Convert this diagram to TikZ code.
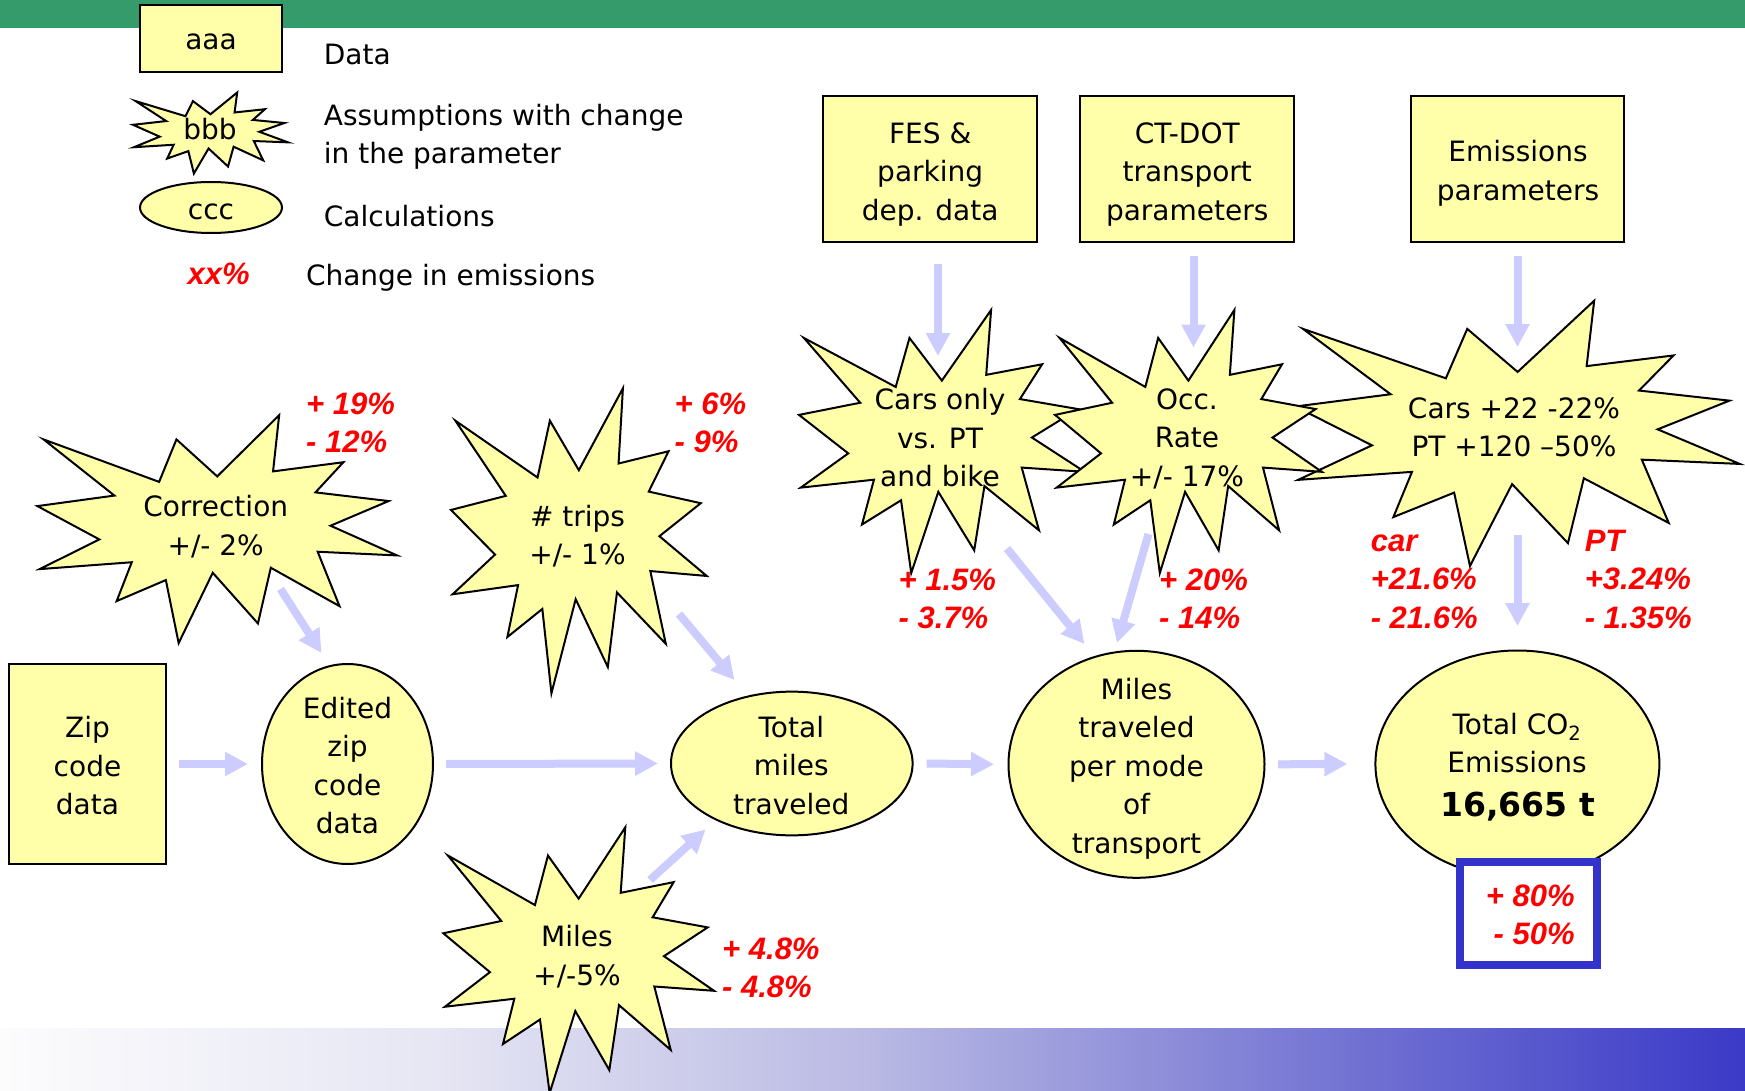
\documentclass[tikz,border=0pt]{standalone}
\usepackage{fontspec}
\setmainfont{DejaVu Sans}
\newfontfamily\redfont{Liberation Sans}
\usetikzlibrary{arrows.meta,shapes.geometric,calc}
\definecolor{fillY}{RGB}{255,255,170}
\definecolor{arrowc}{RGB}{204,204,255}
\definecolor{greenbar}{RGB}{54,155,106}
\definecolor{bluebar}{RGB}{51,51,204}
\definecolor{redt}{RGB}{255,0,0}
\definecolor{gA}{RGB}{252,252,253}
\definecolor{gB}{RGB}{230,230,244}
\definecolor{gC}{RGB}{185,185,228}
\definecolor{gD}{RGB}{120,120,212}
\definecolor{gE}{RGB}{58,58,200}
\pgfdeclarehorizontalshading{bargrad}{100bp}{color(0bp)=(gA); color(25bp)=(gA); color(37.5bp)=(gB); color(50bp)=(gC); color(62.5bp)=(gD); color(75bp)=(gE); color(100bp)=(gE)}
\newcommand\st{\vrule width 0pt height 22pt depth 7pt}
\newcommand\rs{\vrule width 0pt height 24pt depth 8pt}
\newcommand\boomstar[4]{%
  \pgfmathsetmacro\bsx{#3/216}\pgfmathsetmacro\bsy{#4/216}%
  \begin{scope}[shift={(#1,#2)},xscale=\bsx,yscale=\bsy]
    \filldraw[starsty] (108,58) -- (145.22,0) -- (141.55,53.25) -- (183.80,44.57) -- (167.02,73.15)
      -- (210.97,81.37) -- (176.07,104.75) -- (216,132.90) -- (168.37,129.42) -- (181.45,180.95)
      -- (140.20,144.57) -- (132.47,197.37) -- (105.32,149.35) -- (84.85,216) -- (77.15,156.27)
      -- (47.62,176.17) -- (56.67,139.37) -- (1.35,145.87) -- (37.22,117.75) -- (0,86.15)
      -- (46.27,76.17) -- (3.70,22.95) -- (73.12,63.20) -- (83.52,22.95) -- cycle;
  \end{scope}}
\tikzset{
  databox/.style={draw=black, line width=2pt, fill=fillY, inner sep=0pt},
  calcshape/.style={ellipse, draw=black, line width=2pt, fill=fillY, inner sep=0pt},
  starsty/.style={draw=black, line width=2pt, fill=fillY},
  txt/.style={align=center, inner sep=0pt},
  lbl/.style={anchor=base west, inner sep=0pt},
  redlab/.style={text=redt, font=\redfont\bfseries\itshape\fontsize{31}{38.4}\selectfont, align=left, inner sep=0pt, anchor=west},
  flow/.style={draw=arrowc, line width=8pt, -{Triangle[length=23pt,width=23pt]}}
}
\begin{document}
\begin{tikzpicture}[x=1pt,y=-1pt,font=\fontsize{28}{38.5}\selectfont]
\useasboundingbox (0,0) rectangle (1745,1091);
\fill[white] (0,0) rectangle (1745,1091);
\fill[greenbar] (0,0) rectangle (1745,28);
\shade[shading=bargrad] (0,1028) rectangle (1745,1091);

% legend
\node[databox, minimum width=142pt, minimum height=67pt] (leg1) at (211,38.5) {};
\node[anchor=base, inner sep=0pt] (leg1t) at (211,50) {aaa};
\boomstar{133}{92.5}{155}{81}
\node[anchor=base, inner sep=0pt] (leg2t) at (210,140) {bbb};
\node[calcshape, minimum width=142pt, minimum height=51pt] (leg3) at (211,207.5) {};
\node[anchor=base, inner sep=0pt] (leg3t) at (211,220) {ccc};
\node[lbl] (l1) at (323.7,64.3) {Data};
\node[lbl] (l2a) at (323.7,126) {Assumptions with change};
\node[lbl] (l2b) at (323.7,164) {in the parameter};
\node[lbl] (l3) at (323.7,227) {Calculations};
\node[lbl] (l4) at (305.8,286) {Change in emissions};
\node[lbl, text=redt, font=\redfont\bfseries\itshape\fontsize{31}{38.4}\selectfont] (l4r) at (187.5,285) {xx\%};

% data boxes
\node[databox, minimum width=213.5pt, minimum height=146pt] (fes) at (930.2,168.6) {};
\node[databox, minimum width=213.5pt, minimum height=146pt] (ctdot) at (1187,168.6) {};
\node[databox, minimum width=213.5pt, minimum height=146pt] (emis) at (1517.7,168.6) {};
\node[databox, minimum width=157pt, minimum height=200pt] (zip) at (87.5,764) {};

% calculations
\node[calcshape, minimum width=171pt, minimum height=200pt] (edited) at (347.5,764) {};
\node[calcshape, minimum width=241.6pt, minimum height=143.7pt] (total) at (791.8,763.5) {};
\node[calcshape, minimum width=256pt, minimum height=227pt] (permode) at (1136.5,764.3) {};
\node[calcshape, minimum width=284pt, minimum height=227pt] (co2) at (1517.4,764) {};

% assumption stars
\boomstar{37.4}{415.2}{359.6}{227.9}
\boomstar{451}{388.3}{255.7}{305}
\boomstar{443.3}{827.3}{270.7}{265.7}
\boomstar{799}{310}{285.7}{263}
\boomstar{1295.4}{300.7}{444.4}{265.3}
\boomstar{1055}{310}{266.8}{263}

% connector end points
\coordinate (c3s) at (280.5,589);   \coordinate (c3e) at (321.5,653);
\coordinate (c4s) at (679,614);     \coordinate (c4e) at (734.5,680);
\coordinate (c5s) at (650,880);     \coordinate (c5e) at (705.6,829.5);
\coordinate (c8s) at (938,264);     \coordinate (c8e) at (938,356);
\coordinate (c9s) at (1193.5,256);  \coordinate (c9e) at (1193.5,347.5);
\coordinate (c10s) at (1517.5,256); \coordinate (c10e) at (1517.5,347);
\coordinate (c11s) at (1007,548.6); \coordinate (c11e) at (1084.5,644);
\coordinate (c12s) at (1148.5,534); \coordinate (c12e) at (1117,643);
\coordinate (c13s) at (1517.5,535); \coordinate (c13e) at (1517.5,626);

% arrows
\draw[flow] ($(zip.east)+(12,0)$) -- ($(edited.west)+(-13,0)$);
\draw[flow] ($(edited.east)+(12,0)$) -- ($(total.west)+(-12,0)$);
\draw[flow] ($(total.east)+(13,0)$) -- ($(permode.west)+(-13.5,0)$);
\draw[flow] ($(permode.east)+(12.5,0)$) -- ($(co2.west)+(-27,0)$);
\draw[flow] (c3s) -- (c3e);
\draw[flow] (c4s) -- (c4e);
\draw[flow] (c5s) -- (c5e);
\draw[flow] (c8s) -- (c8e);
\draw[flow] (c9s) -- (c9e);
\draw[flow] (c10s) -- (c10e);
\draw[flow] (c11s) -- (c11e);
\draw[flow] (c12s) -- (c12e);
\draw[flow] (c13s) -- (c13e);

% result box
\node[draw=bluebar, line width=8pt, fill=white, minimum width=137pt, minimum height=103pt, inner sep=0pt] (chg) at (1528.5,913.5) {};

% texts
\node[txt] (fest) at (930.2,174.1) {\st FES \&\\\st parking\\\st dep. data};
\node[txt] (ctdott) at (1187.2,174.1) {\st CT-DOT\\\st transport\\\st parameters};
\node[txt] (emist) at (1518,173.3) {\st Emissions\\\st parameters};
\node[txt] (zipt) at (87.5,768.6) {\st Zip\\\st code\\\st data};
\node[txt] (editedt) at (347.5,768.4) {\st Edited\\\st zip\\\st code\\\st data};
\node[txt] (totalt) at (791.3,768.4) {\st Total\\\st miles\\\st traveled};
\node[txt] (permodet) at (1136.5,768.7) {\st Miles\\\st traveled\\\st per mode\\\st of\\\st transport};
\node[txt] (co2t) at (1517,745.9) {\st Total CO\textsubscript{2}\\\st Emissions};
\node[anchor=base, inner sep=0pt, font=\bfseries\fontsize{33}{40}\selectfont] (co2v) at (1517.8,816.7) {16,665 t};
\node[txt] (corrt) at (215.7,528.4) {\st Correction\\\st +/- 2\%};
\node[txt] (tripst) at (577.5,538.1) {\st \# trips\\\st +/- 1\%};
\node[txt] (milest) at (577,958.4) {\st Miles\\\st +/-5\%};
\node[txt] (carst) at (940,440.6) {\st Cars only\\\st vs. PT\\\st and bike};
\node[txt] (occt) at (1187,440.3) {\st Occ.\\\st Rate\\\st +/- 17\%};
\node[txt] (emparamt) at (1514,429.9) {\st Cars +22 -22\%\\\st PT +120 –50\%};

% change in emissions
\node[redlab] (r1) at (306,425.3) {\rs+ 19\%\\\rs- 12\%};
\node[redlab] (r2) at (674.5,425.3) {\rs+ 6\%\\\rs- 9\%};
\node[redlab] (r3) at (722,970.7) {\rs+ 4.8\%\\\rs- 4.8\%};
\node[redlab] (r4) at (898.4,601.5) {\rs+ 1.5\%\\\rs- 3.7\%};
\node[redlab] (r5) at (1159,601.5) {\rs+ 20\%\\\rs- 14\%};
\node[redlab] (r6) at (1370.6,581.8) {\rs car\\\rs+21.6\%\\\rs- 21.6\%};
\node[redlab] (r7) at (1584.6,581.8) {\rs PT\\\rs+3.24\%\\\rs- 1.35\%};
\node[redlab, anchor=east, align=right] (r8) at (1574.8,917.3) {\rs+ 80\%\\\rs- 50\%};
\end{tikzpicture}
\end{document}
